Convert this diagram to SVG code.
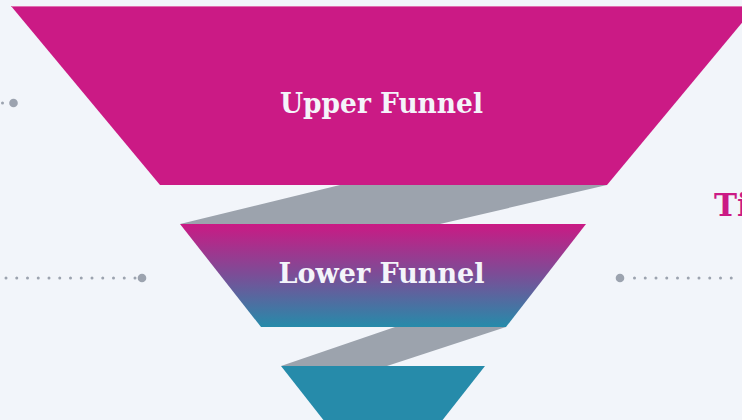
<svg xmlns="http://www.w3.org/2000/svg" width="742" height="420" viewBox="0 0 742 420">
<defs>
<linearGradient id="g1" x1="0" y1="0" x2="0" y2="1">
<stop offset="0" stop-color="#CA1A84"/>
<stop offset="0.5" stop-color="#7A4E97"/>
<stop offset="1" stop-color="#268BAA"/>
</linearGradient>
<style>
.lbl{font-family:"DejaVu Serif","Liberation Serif",serif;font-weight:bold;fill:#F4F4FA;}
.band{fill:#9CA3AD;}
.dotline{stroke:#9CA3AF;stroke-width:3;stroke-linecap:round;stroke-dasharray:0 10.75;fill:none;}
.dot{fill:#9CA3AF;}
</style>
</defs>
<rect width="742" height="420" fill="#F2F5FA"/>
<g id="connectors">
<polygon class="band" points="340,185 607,185 440,224 180,224"/>
<polygon class="band" points="395,327 506,327 387,366 281,366"/>
<path class="dotline" d="M2.5,103 L8,103"/>
<circle class="dot" cx="13.5" cy="103" r="4.3"/>
<path class="dotline" d="M6,278 L136,278"/>
<circle class="dot" cx="142" cy="278" r="4.3"/>
<circle class="dot" cx="620" cy="278" r="4.3"/>
<path class="dotline" d="M634.5,278 L742,278"/>
</g>
<g id="upper">
<polygon points="11,6 756,6 607,185 160,185" fill="#CB1A85"/>
<line x1="11" y1="6.5" x2="756" y2="6.5" stroke="#E070B0" stroke-width="1"/>
<text class="lbl" x="381.5" y="113.3" font-size="28" text-anchor="middle" textLength="203" lengthAdjust="spacingAndGlyphs">Upper Funnel</text>
</g>
<g id="lower">
<polygon points="180,224 586,224 506,327 261,327" fill="url(#g1)"/>
<text class="lbl" x="381.5" y="283.3" font-size="28" text-anchor="middle" textLength="206" lengthAdjust="spacingAndGlyphs">Lower Funnel</text>
</g>
<g id="bottom">
<polygon points="281,366 485,366 441,422 325,422" fill="#268BAA"/>
</g>
<g id="side-label">
<text x="714" y="216" font-family="DejaVu Serif,'Liberation Serif',serif" font-weight="bold" font-size="31" fill="#CB1A85">Ti</text>
</g>
</svg>
